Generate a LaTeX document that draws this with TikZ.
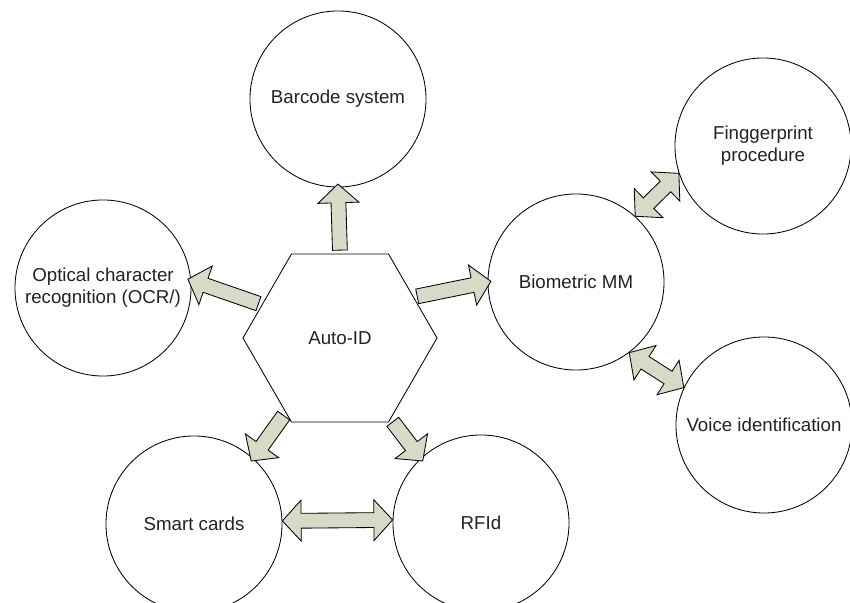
\documentclass[tikz,border=0pt]{standalone}
\usepackage{fontspec}
\setmainfont{Liberation Sans}
\usepackage{xcolor}
\definecolor{arrowfill}{RGB}{216,218,200}
\definecolor{inkgray}{RGB}{34,34,34}
\usetikzlibrary{shapes.geometric,shapes.arrows,calc}

% block arrow from one anchor to another, as long as the gap
\newcommand{\blockarrow}[3][single arrow]{%
  \path let \p1=($(#3)-(#2)$), \n1={veclen(\x1,\y1)} in
    (#2) -- (#3) node[midway, sloped, allow upside down, blk, #1, minimum height=\n1] {};}

\tikzset{
  blk/.style={draw=black, fill=arrowfill, line width=0.6pt, inner xsep=0pt, inner ysep=0.175cm,
    single arrow head extend=0.325cm, double arrow head extend=0.325cm,
    single arrow tip angle=95, double arrow tip angle=95}
}

\begin{document}
\begin{tikzpicture}[x=0.025cm, y=-0.025cm,
  topic/.style={draw=black, circle, minimum size=4.4cm, inner sep=0pt, align=center, line width=0.6pt,
    font=\fontsize{13.3}{15.5}\selectfont, text=inkgray},
  hub/.style={draw=black, regular polygon, regular polygon sides=6, minimum size=4.85cm, inner sep=0pt,
    line width=0.6pt, font=\fontsize{13.3}{15.5}\selectfont, text=inkgray}
]
  \useasboundingbox (0,0) rectangle (850,603);

  \node[hub] (autoid) at (340,338) {Auto-ID};

  \node[topic] (barcode) at (338,99) {Barcode system};
  \node[topic] (ocr) at (103,288) {Optical character\\recognition (OCR/)};
  \node[topic] (bio) at (576,282) {Biometric MM};
  \node[topic] (finger) at (763,146) {Finggerprint\\procedure};
  \node[topic] (voice) at (764,425) {Voice identification};
  \node[topic] (smart) at (194,524) {Smart cards};
  \node[topic] (rfid) at (481,523) {RFId};

  \blockarrow{autoid.90}{barcode.-90}
  \blockarrow{autoid.157}{ocr.5}
  \blockarrow{autoid.29}{bio.180}
  \blockarrow{autoid.234}{smart.48}
  \blockarrow{autoid.302}{rfid.133}

  \blockarrow[double arrow]{smart.2}{rfid.178}
  \blockarrow[double arrow]{bio.48}{finger.198}
  \blockarrow[double arrow]{bio.-53}{voice.155}
\end{tikzpicture}
\end{document}
